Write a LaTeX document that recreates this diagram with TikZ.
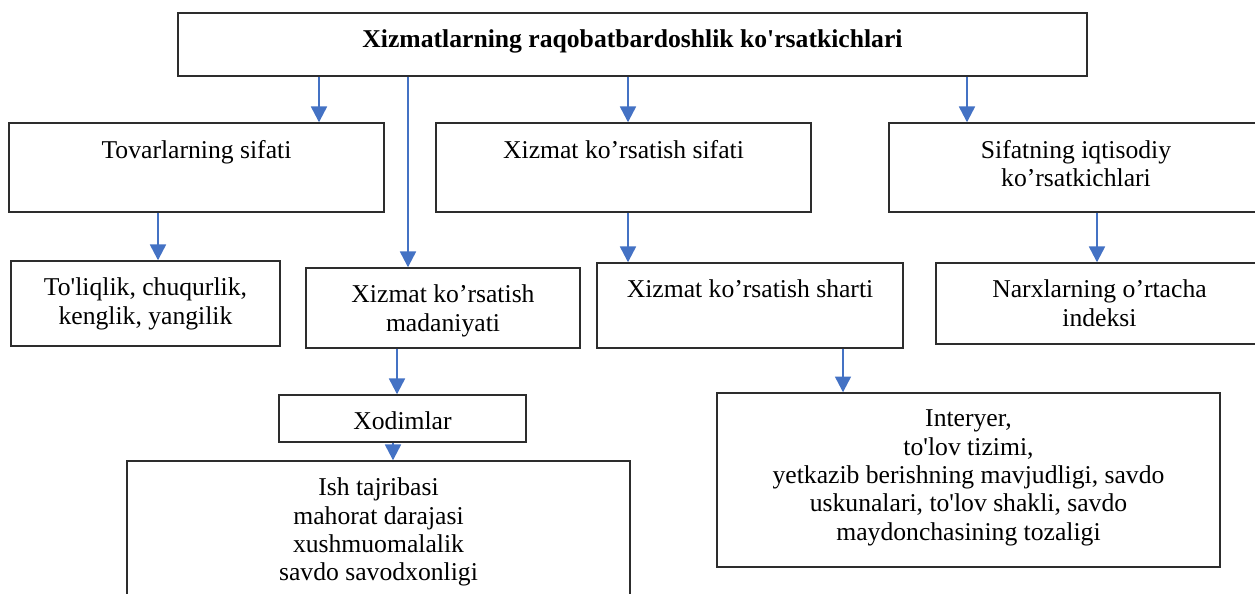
\documentclass[tikz,border=0pt]{standalone}
\usepackage{fontspec}
\setmainfont{Liberation Serif}[Ligatures=TeXOff]
\usepackage{tikz}
\usetikzlibrary{arrows.meta,positioning}
\definecolor{wordblue}{RGB}{68,114,196}
\definecolor{boxgray}{RGB}{45,45,45}
\tikzset{
  pbox/.style ={rectangle, draw=boxgray, line width=0.8pt, inner sep=0pt},
  ptext/.style={align=center, inner sep=0pt, font=\fontsize{14.6}{16.1}\selectfont},
  ptitle/.style={ptext, font=\fontsize{14.6}{16.1}\selectfont\bfseries},
  parr/.style ={-{Triangle[length=9pt, width=9pt]}, line width=1.35pt, wordblue},
}

\begin{document}
\begin{tikzpicture}[x=0.02cm, y=-0.02cm]
  \useasboundingbox (0,0) rectangle (1255,594);
  \node[pbox, minimum width=18.18cm, minimum height=1.26cm] (top) at (632.5,44.5) {};
  \node[pbox, minimum width=7.5cm,  minimum height=1.78cm] (tov) at (196.5,167.5) {};
  \node[pbox, minimum width=7.5cm,  minimum height=1.78cm] (xks) at (623.5,167.5) {};
  \node[pbox, minimum width=7.48cm, minimum height=1.78cm] (sif) at (1076,167.5) {};
  \node[pbox, minimum width=5.38cm, minimum height=1.7cm]  (tol) at (145.5,303.5) {};
  \node[pbox, minimum width=5.48cm, minimum height=1.6cm]  (mad) at (443,308) {};
  \node[pbox, minimum width=6.12cm, minimum height=1.7cm]  (sha) at (750,305.5) {};
  \node[pbox, minimum width=6.54cm, minimum height=1.62cm] (nar) at (1099.5,303.5) {};
  \node[pbox, minimum width=4.94cm, minimum height=0.94cm] (xod) at (402.5,418.5) {};
  \node[pbox, minimum width=10.06cm, minimum height=2.98cm] (ish) at (378.5,535.5) {};
  \node[pbox, minimum width=10.06cm, minimum height=3.48cm] (int) at (968.5,480) {};
  % texts
  \node[ptitle, below=0.35cm of top.north] (topt) {Xizmatlarning raqobatbardoshlik ko'rsatkichlari};
  \node[ptext, below=0.35cm of tov.north] (tovt) {Tovarlarning sifati};
  \node[ptext, below=0.35cm of xks.north] (xkst) {Xizmat ko’rsatish sifati};
  \node[ptext, below=0.35cm of sif.north] (sift) {Sifatning iqtisodiy\\ko’rsatkichlari};
  \node[ptext, below=0.35cm of tol.north] (tolt) {To'liqlik, chuqurlik,\\kenglik, yangilik};
  \node[ptext, below=0.35cm of mad.north] (madt) {Xizmat ko’rsatish\\madaniyati};
  \node[ptext, below=0.35cm of sha.north] (shat) {Xizmat ko’rsatish sharti};
  \node[ptext, below=0.35cm of nar.north] (nart) {Narxlarning o’rtacha\\indeksi};
  \node[ptext, below=0.35cm of xod.north] (xodt) {Xodimlar};
  \node[ptext, below=0.35cm of ish.north] (isht) {Ish tajribasi\\mahorat darajasi\\xushmuomalalik\\savdo savodxonligi};
  \node[ptext, below=0.35cm of int.north] (intt) {Interyer,\\to'lov tizimi,\\yetkazib berishning mavjudligi, savdo\\uskunalari, to'lov shakli, savdo\\maydonchasining tozaligi};
  % arrows
  \draw[parr] (top.south -| 319,0)  -- (tov.north -| 319,0);
  \draw[parr] (top.south -| 408,0)  -- (mad.north -| 408,0);
  \draw[parr] (top.south -| 628,0)  -- (xks.north -| 628,0);
  \draw[parr] (top.south -| 967,0)  -- (sif.north -| 967,0);
  \draw[parr] (tov.south -| 158,0)  -- (tol.north -| 158,0);
  \draw[parr] (xks.south -| 628,0)  -- (sha.north -| 628,0);
  \draw[parr] (sif.south -| 1097,0) -- (nar.north -| 1097,0);
  \draw[parr] (mad.south -| 397,0)  -- (xod.north -| 397,0);
  \draw[parr] (xod.south -| 393,0)  -- (ish.north -| 393,0);
  \draw[parr] (sha.south -| 843,0)  -- (int.north -| 843,0);
\end{tikzpicture}
\end{document}
